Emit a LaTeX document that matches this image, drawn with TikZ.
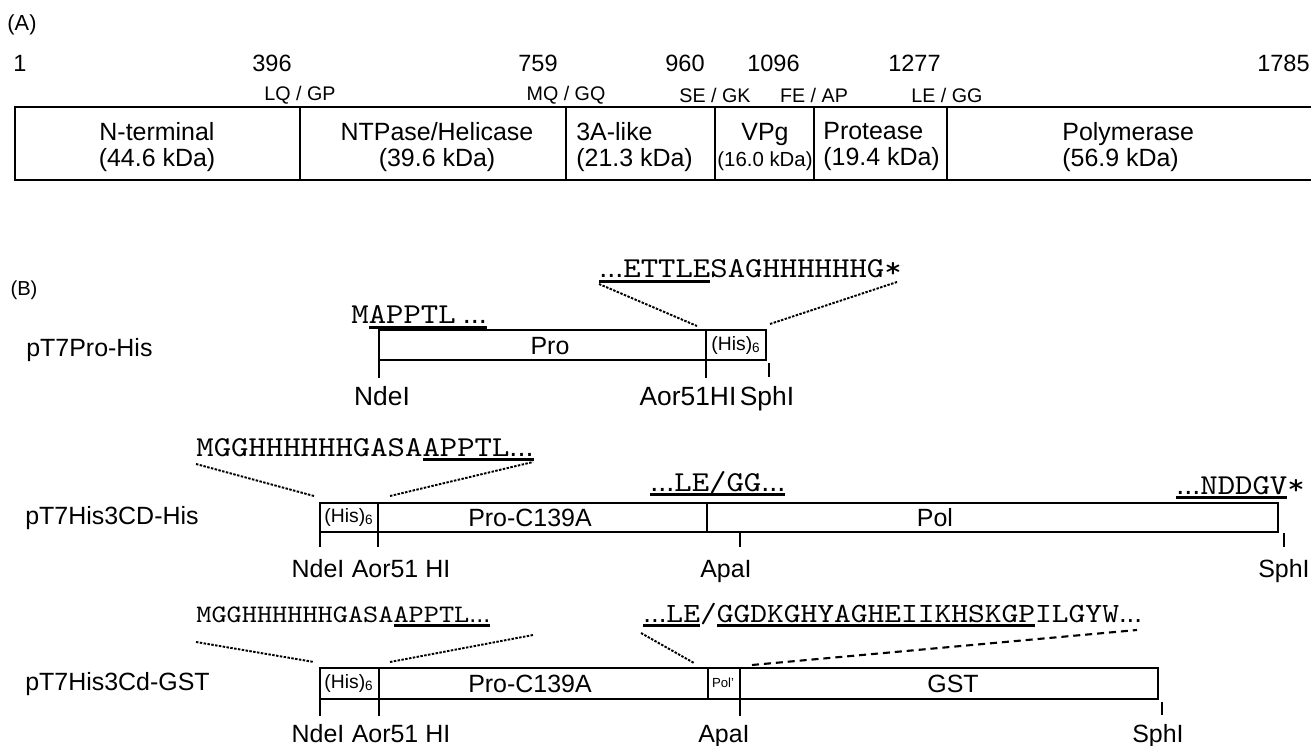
\documentclass[tikz,border=0pt]{standalone}
\usepackage{fontspec}
\setmainfont{Liberation Sans}
\newfontfamily\seqfont{lmmono10-regular.otf}[FakeStretch=1.15]
\usetikzlibrary{positioning}
\newsavebox{\seqbox}
\newcommand{\useq}[1]{\sbox{\seqbox}{#1}\rlap{\rule[-2.6pt]{\wd\seqbox}{1.3pt}}\usebox{\seqbox}}
\newcommand{\elp}{{\rmfamily...}}

\begin{document}
\begin{tikzpicture}[x=0.02cm, y=-0.02cm,
    seg/.style={draw, line width=1.3pt},
    divider/.style={line width=0.8pt},
    tick/.style={line width=0.8pt},
    txt/.style={inner sep=0pt, font=\fontsize{14.2}{14.8}\selectfont},
    num/.style={inner sep=0pt, font=\fontsize{13.4}{14}\selectfont},
    cut/.style={inner sep=0pt, font=\fontsize{11.2}{12}\selectfont},
    his/.style={inner sep=0pt, font=\fontsize{11}{12}\selectfont},
    site/.style={inner sep=0pt, anchor=base, font=\fontsize{14.2}{15}\selectfont},
    bigsite/.style={inner sep=0pt, anchor=base, font=\fontsize{15}{16}\selectfont},
    seq/.style={inner sep=0pt, anchor=base west, font=\seqfont\fontsize{16.4}{17}\selectfont},
    dots/.style={line width=1.1pt, dash pattern=on 1.4pt off 0.8pt},
    longdash/.style={line width=1.2pt, dash pattern=on 4pt off 2.8pt}
]
\useasboundingbox (0,0) rectangle (1311,746);

% (A) polyprotein map
\node[inner sep=0pt, font=\fontsize{12.4}{13}\selectfont] (labA) at (22,25) {(A)};
\node[num, anchor=west] (res1) at (13,63) {1};
\foreach \x/\n in {292/396, 558/759, 705/960, 800/1096, 941/1277, 1310/1785}
    \node[num, anchor=east] (res\n) at (\x,63) {\n};
\foreach \x/\a/\b in {300/LQ/GP, 566/MQ/GQ, 715/SE/GK, 814/FE/AP, 947/LE/GG}
    \node[cut] (cut\x) at (\x,95) {\a{} / \b};
\draw[seg] (15,107) rectangle (1315,180);
\foreach \x in {300,566,715,814,947}
    \draw[divider] (\x,107) -- (\x,180);
\node[txt, align=center] (nterm) at (157,147) {N-terminal\\(44.6 kDa)};
\node[txt, align=center] (ntpase) at (437,147) {NTPase/Helicase\\(39.6 kDa)};
\node[txt, align=left, anchor=west] (threeA) at (576,147) {3A-like\\(21.3 kDa)};
\node[txt, align=center] (vpg) at (765,147) {VPg\\{\fontsize{11.6}{12}\selectfont(16.0 kDa)}};
\node[txt, align=left, anchor=west] (protease) at (823,147) {Protease\\(19.4 kDa)};
\node[txt, align=left, anchor=west] (polymerase) at (1062,147) {Polymerase\\(56.9 kDa)};

% (B) constructs
\node[inner sep=0pt, font=\fontsize{11.5}{12}\selectfont] (labB) at (24,290) {(B)};

% pT7Pro-His
\node[txt, anchor=west] (cons1) at (26,350) {pT7Pro-His};
\draw[seg] (379,330) rectangle (766,360);
\draw[divider] (706,330) -- (706,360);
\node[txt] (pro1) at (550,346) {Pro};
\node[his] (his1) at (736,345) {(His)\textsubscript{6}};
\node[seq] (nseq1) at (351,324) {M\useq{APPTL\hspace{4pt}\elp}};
\node[seq] (cseq1) at (599,278) {\useq{\elp ETTLE}SAGHHHHHHG*};
\coordinate (c1a) at (599,284);
\coordinate (c1b) at (697,326);
\coordinate (c1c) at (770,324);
\coordinate (c1d) at (897,282);
\draw[dots] (c1a) -- (c1b);
\draw[dots] (c1c) -- (c1d);
\draw[tick] (379,360) -- (379,378);
\draw[tick] (706,360) -- (706,378);
\draw[tick] (769,363) -- (769,377);
\node[bigsite] (nde1) at (382,405) {NdeI};
\node[bigsite] (aor1) at (688,405) {Aor51HI};
\node[bigsite] (sph1) at (767,405) {SphI};

% pT7His3CD-His
\node[txt, anchor=west] (cons2) at (25,518) {pT7His3CD-His};
\draw[seg] (320,503) rectangle (1278,532);
\foreach \x in {378,707}
    \draw[divider] (\x,503) -- (\x,532);
\node[his] (his2) at (349,517) {(His)\textsubscript{6}};
\node[txt] (pro2) at (530,518) {Pro-C139A};
\node[txt] (pol2) at (935,518) {Pol};
\node[seq] (nseq2) at (196,456) {MGGHHHHHHGASA\useq{APPTL\elp}};
\node[seq] (jseq2) at (650,491) {\useq{\elp LE/GG\elp}};
\node[seq] (cseq2) at (1176,494) {\useq{\elp NDDGV}*};
\coordinate (c2a) at (196,464);
\coordinate (c2b) at (314,496);
\coordinate (c2c) at (390,496);
\coordinate (c2d) at (533,462);
\draw[dots] (c2a) -- (c2b);
\draw[dots] (c2c) -- (c2d);
\foreach \x in {320,378,740}
    \draw[tick] (\x,532) -- (\x,547);
\draw[tick] (1284,533) -- (1284,547);
\node[site] (nde2) at (318,577) {NdeI};
\node[site] (aor2) at (401,577) {Aor51 HI};
\node[site] (apa2) at (726,577) {ApaI};
\node[site] (sph2) at (1284,577) {SphI};

% pT7His3Cd-GST
\node[txt, anchor=west] (cons3) at (25,684) {pT7His3Cd-GST};
\draw[seg] (320,668) rectangle (1158,699);
\foreach \x in {379,708,740}
    \draw[divider] (\x,668) -- (\x,699);
\node[his] (his3) at (349,683) {(His)\textsubscript{6}};
\node[txt] (pro3) at (530,684) {Pro-C139A};
\node[inner sep=0pt, font=\fontsize{7.5}{8}\selectfont] (pol3) at (723,683) {Pol'};
\node[txt] (gst3) at (953,684) {GST};
\node[seq, font=\seqfont\fontsize{14.3}{15}\selectfont] (nseq3) at (196,622) {MGGHHHHHHGASA\useq{APPTL\elp}};
\node[seq, font=\seqfont\fontsize{15.8}{16}\selectfont] (jseq3) at (643,622) {\useq{\elp LE}/\useq{GGDKGHYAGHEIIKHSKGP}ILGYW\elp};
\coordinate (c3a) at (196,642);
\coordinate (c3b) at (314,662);
\coordinate (c3c) at (390,662);
\coordinate (c3d) at (533,635);
\coordinate (c3e) at (641,633);
\coordinate (c3f) at (694,663);
\coordinate (c3g) at (752,665);
\coordinate (c3h) at (1137,630);
\draw[dots] (c3a) -- (c3b);
\draw[dots] (c3c) -- (c3d);
\draw[dots] (c3e) -- (c3f);
\draw[longdash] (c3g) -- (c3h);
\foreach \x in {320,379,740}
    \draw[tick] (\x,699) -- (\x,716);
\draw[tick] (1162,702) -- (1162,715);
\node[site] (nde3) at (318,742) {NdeI};
\node[site] (aor3) at (401,742) {Aor51 HI};
\node[site] (apa3) at (724,742) {ApaI};
\node[site] (sph3) at (1158,742) {SphI};
\end{tikzpicture}
\end{document}
